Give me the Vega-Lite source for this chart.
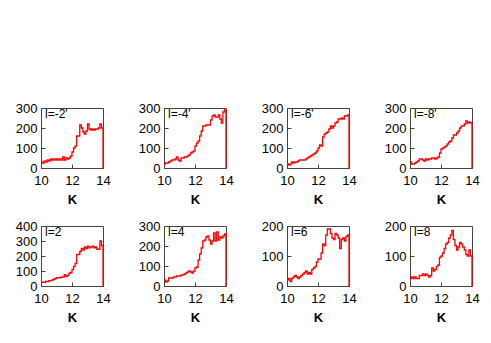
{
  "$schema": "https://vega.github.io/schema/vega-lite/v6.json",
  "padding": {"left": 14, "top": 101, "right": 0, "bottom": 0},
  "background": "white",
  "config": {
    "font": "Liberation Sans",
    "view": {"stroke": "#444444", "strokeWidth": 1},
    "axis": {
      "grid": false,
      "domainColor": "#444444",
      "tickColor": "#444444",
      "tickSize": -4,
      "tickCount": 10,
      "format": "d",
      "labelOverlap": false,
      "labelFont": "Liberation Sans",
      "labelFontSize": 13,
      "labelColor": "black",
      "titleFont": "Liberation Sans",
      "titleFontSize": 13,
      "titleFontWeight": "bold",
      "titleColor": "black"
    },
    "axisX": {"labelPadding": 10, "titlePadding": 6, "labelFlush": false},
    "axisY": {"labelPadding": 8}
  },
  "data": {
    "values": [
      {"p":1,"K":10.0,"n":30},{"p":1,"K":10.1,"n":25},{"p":1,"K":10.2,"n":35},{"p":1,"K":10.3,"n":30},{"p":1,"K":10.4,"n":40},{"p":1,"K":10.5,"n":35},{"p":1,"K":10.6,"n":45},{"p":1,"K":10.7,"n":40},{"p":1,"K":10.8,"n":45},{"p":1,"K":10.9,"n":40},
      {"p":1,"K":11.0,"n":45},{"p":1,"K":11.1,"n":40},{"p":1,"K":11.2,"n":45},{"p":1,"K":11.3,"n":40},{"p":1,"K":11.4,"n":55},{"p":1,"K":11.5,"n":40},{"p":1,"K":11.6,"n":50},{"p":1,"K":11.7,"n":45},{"p":1,"K":11.8,"n":50},{"p":1,"K":11.9,"n":60},
      {"p":1,"K":12.0,"n":80},{"p":1,"K":12.1,"n":100},{"p":1,"K":12.2,"n":110},{"p":1,"K":12.3,"n":160},{"p":1,"K":12.4,"n":160},{"p":1,"K":12.5,"n":215},{"p":1,"K":12.6,"n":200},{"p":1,"K":12.7,"n":180},{"p":1,"K":12.8,"n":170},{"p":1,"K":12.9,"n":185},
      {"p":1,"K":13.0,"n":220},{"p":1,"K":13.1,"n":195},{"p":1,"K":13.2,"n":190},{"p":1,"K":13.3,"n":195},{"p":1,"K":13.4,"n":190},{"p":1,"K":13.5,"n":195},{"p":1,"K":13.6,"n":195},{"p":1,"K":13.7,"n":200},{"p":1,"K":13.8,"n":220},{"p":1,"K":13.9,"n":200},{"p":1,"K":14.0,"n":0},

      {"p":2,"K":10.0,"n":20},{"p":2,"K":10.1,"n":25},{"p":2,"K":10.2,"n":25},{"p":2,"K":10.3,"n":30},{"p":2,"K":10.4,"n":35},{"p":2,"K":10.5,"n":40},{"p":2,"K":10.6,"n":40},{"p":2,"K":10.7,"n":45},{"p":2,"K":10.8,"n":55},{"p":2,"K":10.9,"n":40},
      {"p":2,"K":11.0,"n":35},{"p":2,"K":11.1,"n":50},{"p":2,"K":11.2,"n":50},{"p":2,"K":11.3,"n":55},{"p":2,"K":11.4,"n":55},{"p":2,"K":11.5,"n":60},{"p":2,"K":11.6,"n":65},{"p":2,"K":11.7,"n":75},{"p":2,"K":11.8,"n":80},{"p":2,"K":11.9,"n":85},
      {"p":2,"K":12.0,"n":110},{"p":2,"K":12.1,"n":125},{"p":2,"K":12.2,"n":135},{"p":2,"K":12.3,"n":160},{"p":2,"K":12.4,"n":185},{"p":2,"K":12.5,"n":210},{"p":2,"K":12.6,"n":210},{"p":2,"K":12.7,"n":215},{"p":2,"K":12.8,"n":215},{"p":2,"K":12.9,"n":215},
      {"p":2,"K":13.0,"n":240},{"p":2,"K":13.1,"n":260},{"p":2,"K":13.2,"n":265},{"p":2,"K":13.3,"n":255},{"p":2,"K":13.4,"n":255},{"p":2,"K":13.5,"n":265},{"p":2,"K":13.6,"n":245},{"p":2,"K":13.7,"n":225},{"p":2,"K":13.8,"n":280},{"p":2,"K":13.9,"n":290},{"p":2,"K":14.0,"n":0},

      {"p":3,"K":10.0,"n":20},{"p":3,"K":10.1,"n":15},{"p":3,"K":10.2,"n":20},{"p":3,"K":10.3,"n":30},{"p":3,"K":10.4,"n":25},{"p":3,"K":10.5,"n":30},{"p":3,"K":10.6,"n":30},{"p":3,"K":10.7,"n":35},{"p":3,"K":10.8,"n":40},{"p":3,"K":10.9,"n":40},
      {"p":3,"K":11.0,"n":40},{"p":3,"K":11.1,"n":40},{"p":3,"K":11.2,"n":45},{"p":3,"K":11.3,"n":50},{"p":3,"K":11.4,"n":55},{"p":3,"K":11.5,"n":60},{"p":3,"K":11.6,"n":65},{"p":3,"K":11.7,"n":70},{"p":3,"K":11.8,"n":75},{"p":3,"K":11.9,"n":85},
      {"p":3,"K":12.0,"n":100},{"p":3,"K":12.1,"n":115},{"p":3,"K":12.2,"n":110},{"p":3,"K":12.3,"n":155},{"p":3,"K":12.4,"n":170},{"p":3,"K":12.5,"n":175},{"p":3,"K":12.6,"n":180},{"p":3,"K":12.7,"n":195},{"p":3,"K":12.8,"n":210},{"p":3,"K":12.9,"n":200},
      {"p":3,"K":13.0,"n":210},{"p":3,"K":13.1,"n":225},{"p":3,"K":13.2,"n":230},{"p":3,"K":13.3,"n":245},{"p":3,"K":13.4,"n":245},{"p":3,"K":13.5,"n":250},{"p":3,"K":13.6,"n":245},{"p":3,"K":13.7,"n":260},{"p":3,"K":13.8,"n":260},{"p":3,"K":13.9,"n":265},{"p":3,"K":14.0,"n":0},

      {"p":4,"K":10.0,"n":30},{"p":4,"K":10.1,"n":20},{"p":4,"K":10.2,"n":20},{"p":4,"K":10.3,"n":25},{"p":4,"K":10.4,"n":30},{"p":4,"K":10.5,"n":35},{"p":4,"K":10.6,"n":45},{"p":4,"K":10.7,"n":45},{"p":4,"K":10.8,"n":40},{"p":4,"K":10.9,"n":35},
      {"p":4,"K":11.0,"n":45},{"p":4,"K":11.1,"n":40},{"p":4,"K":11.2,"n":45},{"p":4,"K":11.3,"n":45},{"p":4,"K":11.4,"n":50},{"p":4,"K":11.5,"n":50},{"p":4,"K":11.6,"n":45},{"p":4,"K":11.7,"n":50},{"p":4,"K":11.8,"n":55},{"p":4,"K":11.9,"n":75},
      {"p":4,"K":12.0,"n":95},{"p":4,"K":12.1,"n":100},{"p":4,"K":12.2,"n":105},{"p":4,"K":12.3,"n":110},{"p":4,"K":12.4,"n":120},{"p":4,"K":12.5,"n":130},{"p":4,"K":12.6,"n":135},{"p":4,"K":12.7,"n":150},{"p":4,"K":12.8,"n":165},{"p":4,"K":12.9,"n":165},
      {"p":4,"K":13.0,"n":175},{"p":4,"K":13.1,"n":185},{"p":4,"K":13.2,"n":200},{"p":4,"K":13.3,"n":210},{"p":4,"K":13.4,"n":210},{"p":4,"K":13.5,"n":220},{"p":4,"K":13.6,"n":235},{"p":4,"K":13.7,"n":225},{"p":4,"K":13.8,"n":230},{"p":4,"K":13.9,"n":225},{"p":4,"K":14.0,"n":0},

      {"p":5,"K":10.0,"n":25},{"p":5,"K":10.1,"n":25},{"p":5,"K":10.2,"n":25},{"p":5,"K":10.3,"n":30},{"p":5,"K":10.4,"n":30},{"p":5,"K":10.5,"n":35},{"p":5,"K":10.6,"n":35},{"p":5,"K":10.7,"n":40},{"p":5,"K":10.8,"n":45},{"p":5,"K":10.9,"n":50},
      {"p":5,"K":11.0,"n":55},{"p":5,"K":11.1,"n":55},{"p":5,"K":11.2,"n":55},{"p":5,"K":11.3,"n":60},{"p":5,"K":11.4,"n":60},{"p":5,"K":11.5,"n":75},{"p":5,"K":11.6,"n":65},{"p":5,"K":11.7,"n":70},{"p":5,"K":11.8,"n":85},{"p":5,"K":11.9,"n":90},
      {"p":5,"K":12.0,"n":110},{"p":5,"K":12.1,"n":130},{"p":5,"K":12.2,"n":150},{"p":5,"K":12.3,"n":210},{"p":5,"K":12.4,"n":210},{"p":5,"K":12.5,"n":230},{"p":5,"K":12.6,"n":250},{"p":5,"K":12.7,"n":240},{"p":5,"K":12.8,"n":260},{"p":5,"K":12.9,"n":250},
      {"p":5,"K":13.0,"n":265},{"p":5,"K":13.1,"n":255},{"p":5,"K":13.2,"n":260},{"p":5,"K":13.3,"n":265},{"p":5,"K":13.4,"n":255},{"p":5,"K":13.5,"n":260},{"p":5,"K":13.6,"n":245},{"p":5,"K":13.7,"n":245},{"p":5,"K":13.8,"n":300},{"p":5,"K":13.9,"n":270},{"p":5,"K":14.0,"n":0},

      {"p":6,"K":10.0,"n":30},{"p":6,"K":10.1,"n":20},{"p":6,"K":10.2,"n":25},{"p":6,"K":10.3,"n":40},{"p":6,"K":10.4,"n":40},{"p":6,"K":10.5,"n":40},{"p":6,"K":10.6,"n":45},{"p":6,"K":10.7,"n":45},{"p":6,"K":10.8,"n":50},{"p":6,"K":10.9,"n":50},
      {"p":6,"K":11.0,"n":50},{"p":6,"K":11.1,"n":55},{"p":6,"K":11.2,"n":55},{"p":6,"K":11.3,"n":60},{"p":6,"K":11.4,"n":65},{"p":6,"K":11.5,"n":70},{"p":6,"K":11.6,"n":75},{"p":6,"K":11.7,"n":70},{"p":6,"K":11.8,"n":65},{"p":6,"K":11.9,"n":75},
      {"p":6,"K":12.0,"n":90},{"p":6,"K":12.1,"n":95},{"p":6,"K":12.2,"n":130},{"p":6,"K":12.3,"n":160},{"p":6,"K":12.4,"n":190},{"p":6,"K":12.5,"n":225},{"p":6,"K":12.6,"n":230},{"p":6,"K":12.7,"n":245},{"p":6,"K":12.8,"n":250},{"p":6,"K":12.9,"n":230},
      {"p":6,"K":13.0,"n":210},{"p":6,"K":13.1,"n":225},{"p":6,"K":13.2,"n":265},{"p":6,"K":13.3,"n":225},{"p":6,"K":13.4,"n":270},{"p":6,"K":13.5,"n":230},{"p":6,"K":13.6,"n":245},{"p":6,"K":13.7,"n":240},{"p":6,"K":13.8,"n":250},{"p":6,"K":13.9,"n":260},{"p":6,"K":14.0,"n":0},

      {"p":7,"K":10.0,"n":20},{"p":7,"K":10.1,"n":25},{"p":7,"K":10.2,"n":15},{"p":7,"K":10.3,"n":25},{"p":7,"K":10.4,"n":30},{"p":7,"K":10.5,"n":35},{"p":7,"K":10.6,"n":30},{"p":7,"K":10.7,"n":25},{"p":7,"K":10.8,"n":30},{"p":7,"K":10.9,"n":35},
      {"p":7,"K":11.0,"n":40},{"p":7,"K":11.1,"n":45},{"p":7,"K":11.2,"n":50},{"p":7,"K":11.3,"n":40},{"p":7,"K":11.4,"n":45},{"p":7,"K":11.5,"n":40},{"p":7,"K":11.6,"n":55},{"p":7,"K":11.7,"n":60},{"p":7,"K":11.8,"n":65},{"p":7,"K":11.9,"n":80},
      {"p":7,"K":12.0,"n":90},{"p":7,"K":12.1,"n":90},{"p":7,"K":12.2,"n":110},{"p":7,"K":12.3,"n":140},{"p":7,"K":12.4,"n":135},{"p":7,"K":12.5,"n":170},{"p":7,"K":12.6,"n":190},{"p":7,"K":12.7,"n":190},{"p":7,"K":12.8,"n":175},{"p":7,"K":12.9,"n":160},
      {"p":7,"K":13.0,"n":155},{"p":7,"K":13.1,"n":175},{"p":7,"K":13.2,"n":170},{"p":7,"K":13.3,"n":160},{"p":7,"K":13.4,"n":125},{"p":7,"K":13.5,"n":155},{"p":7,"K":13.6,"n":160},{"p":7,"K":13.7,"n":150},{"p":7,"K":13.8,"n":165},{"p":7,"K":13.9,"n":170},{"p":7,"K":14.0,"n":0},

      {"p":8,"K":10.0,"n":25},{"p":8,"K":10.1,"n":30},{"p":8,"K":10.2,"n":25},{"p":8,"K":10.3,"n":30},{"p":8,"K":10.4,"n":25},{"p":8,"K":10.5,"n":25},{"p":8,"K":10.6,"n":35},{"p":8,"K":10.7,"n":35},{"p":8,"K":10.8,"n":40},{"p":8,"K":10.9,"n":35},
      {"p":8,"K":11.0,"n":40},{"p":8,"K":11.1,"n":35},{"p":8,"K":11.2,"n":30},{"p":8,"K":11.3,"n":35},{"p":8,"K":11.4,"n":60},{"p":8,"K":11.5,"n":50},{"p":8,"K":11.6,"n":55},{"p":8,"K":11.7,"n":65},{"p":8,"K":11.8,"n":70},{"p":8,"K":11.9,"n":95},
      {"p":8,"K":12.0,"n":100},{"p":8,"K":12.1,"n":110},{"p":8,"K":12.2,"n":125},{"p":8,"K":12.3,"n":140},{"p":8,"K":12.4,"n":145},{"p":8,"K":12.5,"n":160},{"p":8,"K":12.6,"n":170},{"p":8,"K":12.7,"n":185},{"p":8,"K":12.8,"n":155},{"p":8,"K":12.9,"n":135},
      {"p":8,"K":13.0,"n":120},{"p":8,"K":13.1,"n":130},{"p":8,"K":13.2,"n":145},{"p":8,"K":13.3,"n":140},{"p":8,"K":13.4,"n":130},{"p":8,"K":13.5,"n":120},{"p":8,"K":13.6,"n":105},{"p":8,"K":13.7,"n":100},{"p":8,"K":13.8,"n":120},{"p":8,"K":13.9,"n":100},{"p":8,"K":14.0,"n":0}
    ]
  },
  "columns": 4,
  "spacing": {"row": 12, "column": 26},
  "concat": [
    {"width": 62, "height": 60, "layer": [
      {"transform": [{"filter": "datum.p == 1"}], "mark": {"type": "line", "interpolate": "step-after", "color": "#ff0000", "strokeWidth": 1.3},
       "encoding": {"x": {"field": "K", "type": "quantitative", "scale": {"domain": [10, 14]}, "axis": {"values": [10, 12, 14], "tickCount": 10, "format": "d", "labelOverlap": false, "title": "K"}},
                    "y": {"field": "n", "type": "quantitative", "scale": {"domain": [0, 300]}, "axis": {"values": [0, 100, 200, 300], "tickCount": 10, "format": "d", "labelOverlap": false, "title": null}}}},
      {"data": {"values": [{"t": "l=-2'", "x": 10, "y": 300}]}, "mark": {"type": "text", "align": "left", "baseline": "top", "dx": 4, "dy": 1, "fontSize": 12, "font": "Liberation Sans", "color": "black"},
       "encoding": {"x": {"field": "x", "type": "quantitative"}, "y": {"field": "y", "type": "quantitative"}, "text": {"field": "t"}}}
    ]},
    {"width": 62, "height": 60, "layer": [
      {"transform": [{"filter": "datum.p == 2"}], "mark": {"type": "line", "interpolate": "step-after", "color": "#ff0000", "strokeWidth": 1.3},
       "encoding": {"x": {"field": "K", "type": "quantitative", "scale": {"domain": [10, 14]}, "axis": {"values": [10, 12, 14], "tickCount": 10, "format": "d", "labelOverlap": false, "title": "K"}},
                    "y": {"field": "n", "type": "quantitative", "scale": {"domain": [0, 300]}, "axis": {"values": [0, 100, 200, 300], "tickCount": 10, "format": "d", "labelOverlap": false, "title": null}}}},
      {"data": {"values": [{"t": "l=-4'", "x": 10, "y": 300}]}, "mark": {"type": "text", "align": "left", "baseline": "top", "dx": 4, "dy": 1, "fontSize": 12, "font": "Liberation Sans", "color": "black"},
       "encoding": {"x": {"field": "x", "type": "quantitative"}, "y": {"field": "y", "type": "quantitative"}, "text": {"field": "t"}}}
    ]},
    {"width": 62, "height": 60, "layer": [
      {"transform": [{"filter": "datum.p == 3"}], "mark": {"type": "line", "interpolate": "step-after", "color": "#ff0000", "strokeWidth": 1.3},
       "encoding": {"x": {"field": "K", "type": "quantitative", "scale": {"domain": [10, 14]}, "axis": {"values": [10, 12, 14], "tickCount": 10, "format": "d", "labelOverlap": false, "title": "K"}},
                    "y": {"field": "n", "type": "quantitative", "scale": {"domain": [0, 300]}, "axis": {"values": [0, 100, 200, 300], "tickCount": 10, "format": "d", "labelOverlap": false, "title": null}}}},
      {"data": {"values": [{"t": "l=-6'", "x": 10, "y": 300}]}, "mark": {"type": "text", "align": "left", "baseline": "top", "dx": 4, "dy": 1, "fontSize": 12, "font": "Liberation Sans", "color": "black"},
       "encoding": {"x": {"field": "x", "type": "quantitative"}, "y": {"field": "y", "type": "quantitative"}, "text": {"field": "t"}}}
    ]},
    {"width": 62, "height": 60, "layer": [
      {"transform": [{"filter": "datum.p == 4"}], "mark": {"type": "line", "interpolate": "step-after", "color": "#ff0000", "strokeWidth": 1.3},
       "encoding": {"x": {"field": "K", "type": "quantitative", "scale": {"domain": [10, 14]}, "axis": {"values": [10, 12, 14], "tickCount": 10, "format": "d", "labelOverlap": false, "title": "K"}},
                    "y": {"field": "n", "type": "quantitative", "scale": {"domain": [0, 300]}, "axis": {"values": [0, 100, 200, 300], "tickCount": 10, "format": "d", "labelOverlap": false, "title": null}}}},
      {"data": {"values": [{"t": "l=-8'", "x": 10, "y": 300}]}, "mark": {"type": "text", "align": "left", "baseline": "top", "dx": 4, "dy": 1, "fontSize": 12, "font": "Liberation Sans", "color": "black"},
       "encoding": {"x": {"field": "x", "type": "quantitative"}, "y": {"field": "y", "type": "quantitative"}, "text": {"field": "t"}}}
    ]},
    {"width": 62, "height": 60, "layer": [
      {"transform": [{"filter": "datum.p == 5"}], "mark": {"type": "line", "interpolate": "step-after", "color": "#ff0000", "strokeWidth": 1.3},
       "encoding": {"x": {"field": "K", "type": "quantitative", "scale": {"domain": [10, 14]}, "axis": {"values": [10, 12, 14], "tickCount": 10, "format": "d", "labelOverlap": false, "title": "K"}},
                    "y": {"field": "n", "type": "quantitative", "scale": {"domain": [0, 400]}, "axis": {"values": [0, 100, 200, 300, 400], "tickCount": 10, "format": "d", "labelOverlap": false, "title": null}}}},
      {"data": {"values": [{"t": "l=2", "x": 10, "y": 400}]}, "mark": {"type": "text", "align": "left", "baseline": "top", "dx": 4, "dy": 1, "fontSize": 12, "font": "Liberation Sans", "color": "black"},
       "encoding": {"x": {"field": "x", "type": "quantitative"}, "y": {"field": "y", "type": "quantitative"}, "text": {"field": "t"}}}
    ]},
    {"width": 62, "height": 60, "layer": [
      {"transform": [{"filter": "datum.p == 6"}], "mark": {"type": "line", "interpolate": "step-after", "color": "#ff0000", "strokeWidth": 1.3},
       "encoding": {"x": {"field": "K", "type": "quantitative", "scale": {"domain": [10, 14]}, "axis": {"values": [10, 12, 14], "tickCount": 10, "format": "d", "labelOverlap": false, "title": "K"}},
                    "y": {"field": "n", "type": "quantitative", "scale": {"domain": [0, 300]}, "axis": {"values": [0, 100, 200, 300], "tickCount": 10, "format": "d", "labelOverlap": false, "title": null}}}},
      {"data": {"values": [{"t": "l=4", "x": 10, "y": 300}]}, "mark": {"type": "text", "align": "left", "baseline": "top", "dx": 4, "dy": 1, "fontSize": 12, "font": "Liberation Sans", "color": "black"},
       "encoding": {"x": {"field": "x", "type": "quantitative"}, "y": {"field": "y", "type": "quantitative"}, "text": {"field": "t"}}}
    ]},
    {"width": 62, "height": 60, "layer": [
      {"transform": [{"filter": "datum.p == 7"}], "mark": {"type": "line", "interpolate": "step-after", "color": "#ff0000", "strokeWidth": 1.3},
       "encoding": {"x": {"field": "K", "type": "quantitative", "scale": {"domain": [10, 14]}, "axis": {"values": [10, 12, 14], "tickCount": 10, "format": "d", "labelOverlap": false, "title": "K"}},
                    "y": {"field": "n", "type": "quantitative", "scale": {"domain": [0, 200]}, "axis": {"values": [0, 100, 200], "tickCount": 10, "format": "d", "labelOverlap": false, "title": null}}}},
      {"data": {"values": [{"t": "l=6", "x": 10, "y": 200}]}, "mark": {"type": "text", "align": "left", "baseline": "top", "dx": 4, "dy": 1, "fontSize": 12, "font": "Liberation Sans", "color": "black"},
       "encoding": {"x": {"field": "x", "type": "quantitative"}, "y": {"field": "y", "type": "quantitative"}, "text": {"field": "t"}}}
    ]},
    {"width": 62, "height": 60, "layer": [
      {"transform": [{"filter": "datum.p == 8"}], "mark": {"type": "line", "interpolate": "step-after", "color": "#ff0000", "strokeWidth": 1.3},
       "encoding": {"x": {"field": "K", "type": "quantitative", "scale": {"domain": [10, 14]}, "axis": {"values": [10, 12, 14], "tickCount": 10, "format": "d", "labelOverlap": false, "title": "K"}},
                    "y": {"field": "n", "type": "quantitative", "scale": {"domain": [0, 200]}, "axis": {"values": [0, 100, 200], "tickCount": 10, "format": "d", "labelOverlap": false, "title": null}}}},
      {"data": {"values": [{"t": "l=8", "x": 10, "y": 200}]}, "mark": {"type": "text", "align": "left", "baseline": "top", "dx": 4, "dy": 1, "fontSize": 12, "font": "Liberation Sans", "color": "black"},
       "encoding": {"x": {"field": "x", "type": "quantitative"}, "y": {"field": "y", "type": "quantitative"}, "text": {"field": "t"}}}
    ]}
  ]
}
